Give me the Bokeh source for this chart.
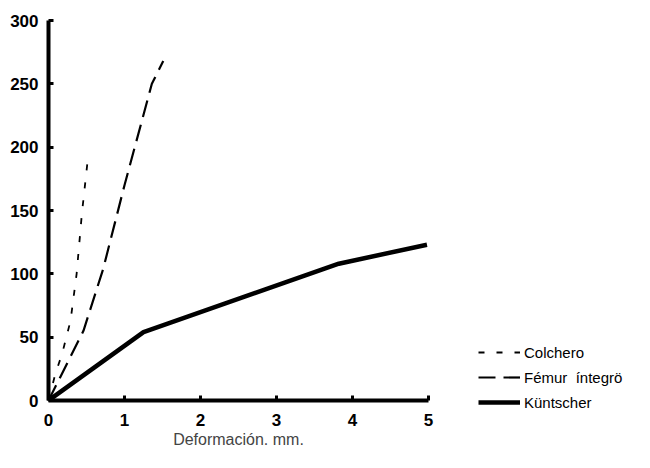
from bokeh.plotting import figure
from bokeh.models import Legend, LegendItem, FixedTicker
from bokeh.embed import file_html
from bokeh.resources import INLINE

# Data (x: deformation mm, y: load)
colchero_x = [0, 0.09, 0.18, 0.29, 0.37, 0.44, 0.52]
colchero_y = [0, 21, 37, 63, 100, 148, 192]

femur_x = [0, 0.46, 0.72, 1.0, 1.36, 1.51]
femur_y = [0, 55, 104, 170, 250, 268]

kuntscher_x = [0, 1.25, 3.82, 4.98]
kuntscher_y = [0, 54, 108, 123]

x_ticks = [0, 1, 2, 3, 4, 5]
y_ticks = [0, 50, 100, 150, 200, 250, 300]

series_names = ["Colchero", "Fémur  íntegrö", "Küntscher"]

FONT = "Liberation Sans"

p = figure(width=634, height=452, output_backend="svg", toolbar_location=None,
           x_range=(0, 5), y_range=(0, 300),
           frame_width=380, frame_height=380,
           min_border_left=48, min_border_top=20, min_border_right=206, min_border_bottom=52)
p.background_fill_color = "white"
p.border_fill_color = "white"
p.outline_line_color = None
p.grid.visible = False

r_col = p.line(colchero_x, colchero_y, line_color="black", line_width=1.8, line_dash="6 12")
r_fem = p.line(femur_x, femur_y, line_color="black", line_width=2.2, line_dash="17 8")
r_kun = p.line(kuntscher_x, kuntscher_y, line_color="black", line_width=4.5)

for ax in (p.xaxis[0], p.yaxis[0]):
    ax.axis_line_width = 4
    ax.axis_line_color = "black"
    ax.major_tick_in = 5
    ax.major_tick_out = 0
    ax.major_tick_line_width = 3
    ax.minor_tick_line_color = None
    ax.major_label_text_font = FONT
    ax.major_label_text_font_size = "17px"
    ax.major_label_text_font_style = "bold"
    ax.major_label_text_color = "black"

p.xaxis[0].ticker = FixedTicker(ticks=x_ticks)
p.yaxis[0].ticker = FixedTicker(ticks=y_ticks)
p.xaxis[0].major_label_standoff = 13
p.yaxis[0].major_label_standoff = 10
p.xaxis[0].axis_label = "Deformación. mm."
p.xaxis[0].axis_label_text_font = FONT
p.xaxis[0].axis_label_text_font_style = "normal"
p.xaxis[0].axis_label_text_font_size = "16px"
p.xaxis[0].axis_label_standoff = 2

legend = Legend(items=[LegendItem(label=series_names[0], renderers=[r_col]),
                       LegendItem(label=series_names[1], renderers=[r_fem]),
                       LegendItem(label=series_names[2], renderers=[r_kun])],
                location=(50, -12), orientation="vertical")
legend.border_line_color = None
legend.background_fill_alpha = 0
legend.padding = 0
legend.margin = 0
legend.spacing = 5
legend.glyph_width = 42
legend.glyph_height = 20
legend.label_height = 20
legend.label_standoff = 4
legend.label_text_font = FONT
legend.label_text_font_size = "15px"
legend.label_text_color = "black"
p.add_layout(legend, "right")

open("out.html", "w").write(file_html(p, INLINE))
